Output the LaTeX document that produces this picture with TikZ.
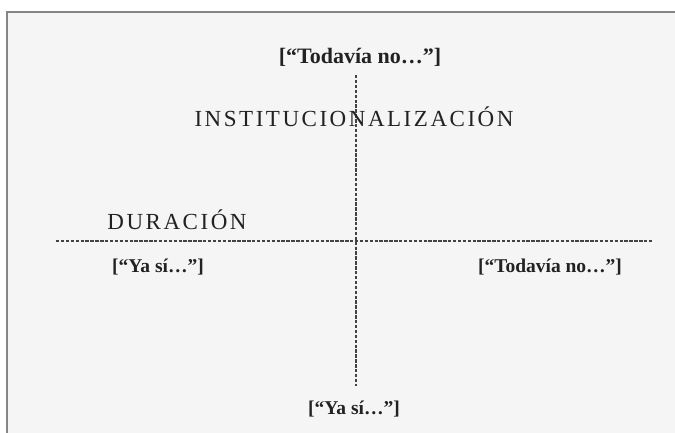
\documentclass[tikz,border=0pt]{standalone}
\usepackage{fontspec}
\setmainfont{Liberation Serif}
\newfontfamily\spacedfont[LetterSpace=11]{Liberation Serif}
\definecolor{bgcol}{HTML}{F5F5F5}
\definecolor{framecol}{HTML}{868686}
\definecolor{txtcol}{HTML}{222222}
\tikzset{
  axisline/.style={draw=txtcol!85, line width=1.3pt, dash pattern=on 3.4pt off 1.5pt},
  bracketlabel/.style={text=txtcol, font=\fontsize{19.5}{21}\selectfont\bfseries, inner sep=0pt},
  bigbracketlabel/.style={bracketlabel, font=\fontsize{22}{24}\selectfont\bfseries},
  titlelabel/.style={text=txtcol, font=\fontsize{23}{25}\selectfont\spacedfont, inner sep=0pt},
}
\begin{document}
\begin{tikzpicture}[x=1pt,y=-1pt]
\useasboundingbox (0,0) rectangle (675,432);
\fill[white] (0,0) rectangle (675,432);
\filldraw[fill=bgcol, draw=framecol, line width=1.6pt] (7,12) rectangle (690,445);
% axes
\coordinate (hl) at (56,241);
\coordinate (hr) at (652,241);
\coordinate (vt) at (356,75);
\coordinate (vb) at (356,386);
\draw[axisline] (hl) -- (hr);
\draw[axisline] (vt) -- (vb);
% labels
\node[bigbracketlabel] (topno) at (360,57) {[“Todavía no…”]};
\node[titlelabel] (inst) at (354,117) {INSTITUCIONALIZACIÓN};
\node[titlelabel] (dur) at (177,220) {DURACIÓN};
\node[bracketlabel] (leftsi) at (158,267) {[“Ya sí…”]};
\node[bracketlabel] (rightno) at (550,267) {[“Todavía no…”]};
\node[bracketlabel] (botsi) at (354,409) {[“Ya sí…”]};
\end{tikzpicture}
\end{document}
